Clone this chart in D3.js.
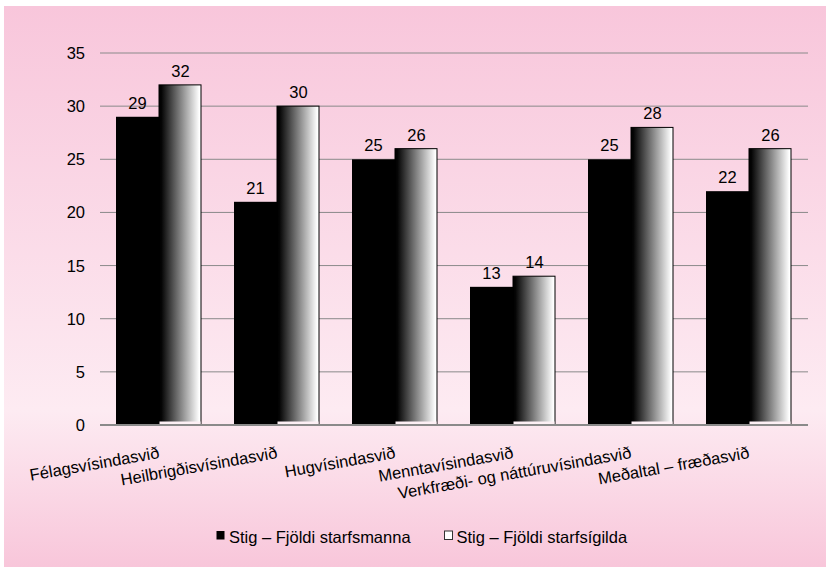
<!DOCTYPE html>
<html><head><meta charset="utf-8">
<script src="https://cdn.jsdelivr.net/npm/d3@7/dist/d3.min.js"></script>
<style>
html,body{margin:0;padding:0;background:#fff;}
svg{display:block;font-family:"Liberation Sans",Arial,sans-serif;}
</style></head>
<body>
<svg id="chart" width="826" height="567"></svg>
<script>
const categories = ["Félagsvísindasvið","Heilbrigðisvísindasvið","Hugvísindasvið","Menntavísindasvið","Verkfræði- og náttúruvísindasvið","Meðaltal – fræðasvið"];
const seriesNames = ["Stig – Fjöldi starfsmanna","Stig – Fjöldi starfsígilda"];
const starfsmenn = [29,21,25,13,25,22];
const starfsigildi = [32,30,26,14,28,26];
const yTicks = [0,5,10,15,20,25,30,35];

(function(){
const W = 826, H = 567;
const svg = d3.select("#chart");
const defs = svg.append("defs");

const bg = defs.append("linearGradient").attr("id","bg").attr("x1",0).attr("y1",0).attr("x2",0).attr("y2",1);
bg.append("stop").attr("offset","0").attr("stop-color","#f8c6db");
bg.append("stop").attr("offset","0.72").attr("stop-color","#fdebf2");
bg.append("stop").attr("offset","1").attr("stop-color","#f8c6da");

const bw = defs.append("linearGradient").attr("id","bw").attr("x1",0).attr("y1",0).attr("x2",1).attr("y2",0);
bw.append("stop").attr("offset","0").attr("stop-color","#000");
bw.append("stop").attr("offset","0.06").attr("stop-color","#050505");
bw.append("stop").attr("offset","0.96").attr("stop-color","#fff");
bw.append("stop").attr("offset","1").attr("stop-color","#fff");

svg.append("rect").attr("x",4).attr("y",6).attr("width",W-4).attr("height",H-6).attr("fill","url(#bg)");

const plotLeft = 100, plotRight = 808, plotTop = 53, base = 425;
const x = d3.scaleBand().domain(categories).range([plotLeft,plotRight]).paddingInner(32/118).paddingOuter(16/118);
const xs = d3.scaleBand().domain([0,1]).range([0,x.bandwidth()]).padding(0);
const y = d3.scaleLinear().domain([0,35]).range([base,plotTop]);

// gridlines
svg.append("g").selectAll("line").data(yTicks.filter(t=>t>0)).join("line")
  .attr("x1",plotLeft).attr("x2",plotRight).attr("y1",d=>y(d)).attr("y2",d=>y(d))
  .attr("stroke","#8a8a8a").attr("stroke-width",1);

// y labels
svg.append("g").selectAll("text").data(yTicks).join("text")
  .attr("x",85).attr("y",d=>y(d)).attr("dy","0.36em").attr("text-anchor","end")
  .attr("font-size","16.5px").attr("fill","#000").text(d=>d);

const rows = categories.map((c,i)=>({c, v:[starfsmenn[i], starfsigildi[i]]}));
const g = svg.append("g").selectAll("g").data(rows).join("g").attr("transform",d=>`translate(${x(d.c)},0)`);

// series 1 black bars
g.append("rect").attr("x",xs(0)).attr("width",xs.bandwidth())
  .attr("y",d=>y(d.v[0])).attr("height",d=>base-y(d.v[0])).attr("fill","#000");

// series 2 gradient bars
g.append("rect").attr("x",xs(1)).attr("width",xs.bandwidth()-1)
  .attr("y",d=>y(d.v[1])).attr("height",d=>base-y(d.v[1])).attr("fill","url(#bw)")
  .attr("stroke","#000").attr("stroke-width",1);
g.append("rect").attr("x",xs(1)+0.5).attr("width",xs.bandwidth()-2)
  .attr("y",base-3.5).attr("height",3.5).attr("fill","#fdf0f5");

// baseline
svg.append("line").attr("x1",plotLeft).attr("x2",plotRight).attr("y1",base).attr("y2",base)
  .attr("stroke","#8a8a8a").attr("stroke-width",2);

// value labels
[0,1].forEach(s=>{
  g.append("text").attr("x",xs(s)+xs.bandwidth()/2).attr("y",d=>y(d.v[s])-8)
    .attr("text-anchor","middle").attr("font-size","16.5px").attr("fill","#000")
    .text(d=>d.v[s]);
});

// category labels
svg.append("g").selectAll("text").data(categories).join("text")
  .attr("transform",d=>`translate(${x(d)+x.bandwidth()/2+1},458) rotate(-10)`)
  .attr("text-anchor","end").attr("font-size","16.5px").attr("fill","#000").text(d=>d);

// legend
const leg = svg.append("g");
leg.append("rect").attr("x",216.5).attr("y",531).attr("width",8).attr("height",8.5).attr("fill","#000");
leg.append("text").attr("x",229).attr("y",543).attr("font-size","16.5px").attr("fill","#000").text(seriesNames[0]);
leg.append("rect").attr("x",444.5).attr("y",531).attr("width",8).attr("height",8.5).attr("fill","#fff").attr("stroke","#333").attr("stroke-width",1);
leg.append("text").attr("x",456.5).attr("y",543).attr("font-size","16.5px").attr("fill","#000").text(seriesNames[1]);
})();
</script>
</body></html>
